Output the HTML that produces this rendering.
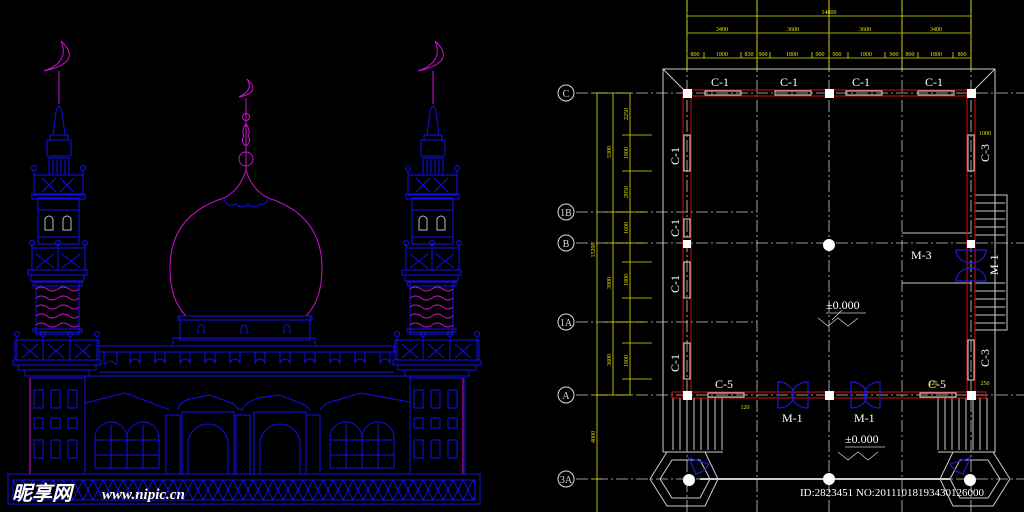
<!DOCTYPE html>
<html><head><meta charset="utf-8"><style>
html,body{margin:0;padding:0;background:#000;width:1024px;height:512px;overflow:hidden}
svg{display:block}
text{font-family:"Liberation Serif",serif}
</style></head><body>
<svg width="1024" height="512" viewBox="0 0 1024 512" xmlns="http://www.w3.org/2000/svg">
<defs><clipPath id="bc"><rect x="13" y="480" width="462" height="20"/></clipPath></defs>
<rect width="1024" height="512" fill="#000"/>
<g fill="none" stroke="#1010ee" stroke-width="1">
 <path d="M246 170 Q240 190 224 198 Q170 215 170 268 Q170 300 186 316 M246 170 Q252 190 268 198 Q322 215 322 268 Q322 300 306 316" stroke="#d010d0"/>
 <path d="M224 200 q4 8 12 4 q6 6 12 0 q6 6 12 0 q6 2 8 -6" stroke="#1010ee"/>
 <path d="M246 98 L246 170" stroke="#d010d0"/>
 <circle cx="246" cy="159" r="7" stroke="#d010d0"/>
 <path d="M246 146 q-6 -4 -2 -10 q-3 -6 2 -12 q5 6 2 12 q4 6 -2 10z" stroke="#d010d0"/>
 <circle cx="246" cy="117" r="3.5" stroke="#d010d0"/>
 <path d="M247 79 Q262 92 239 97 Q254 90 247 79z" stroke="#d010d0"/>
 <rect x="180" y="316" width="130" height="24"/>
 <rect x="178" y="316" width="134" height="4"/>
 <rect x="173" y="338" width="142" height="8"/>
 <path d="M198 334 v-6 a3 3 0 0 1 6 0 v6 M241 334 v-6 a3 3 0 0 1 6 0 v6 M284 334 v-6 a3 3 0 0 1 6 0 v6"/>
 <rect x="99" y="346" width="295" height="6"/>
 <path d="M99 352 H394 M99 376 H394 M99 372 H394"/>
 <path d="M104 352 v12 h2 a5 5 0 0 1 9 0 h2 M117 364 v-12 M130 352 v12 a5 5 0 0 1 10 0 v-12 M155 352 v12 a5 5 0 0 1 10 0 v-12 M180 352 v12 a5 5 0 0 1 10 0 v-12 M205 352 v12 a5 5 0 0 1 10 0 v-12 M230 352 v12 a5 5 0 0 1 10 0 v-12 M255 352 v12 a5 5 0 0 1 10 0 v-12 M280 352 v12 a5 5 0 0 1 10 0 v-12 M305 352 v12 a5 5 0 0 1 10 0 v-12 M330 352 v12 a5 5 0 0 1 10 0 v-12 M355 352 v12 a5 5 0 0 1 10 0 v-12 M380 352 v12 a5 5 0 0 1 10 0 v-12"/>
 <rect x="85" y="376" width="325" height="98"/>
 <path d="M85 403 L125 393 L170 410 M178 410 Q180 400 195 398 L210 395 L234 404 Q237 410 242 410 Q246 402 258 398 L280 395 L305 405 L310 410 M320 410 Q325 402 338 400 L360 393 L410 402"/>
 <path d="M95 468 v-30 a16 16 0 0 1 32 0 v30z M127 468 v-30 a16 16 0 0 1 32 0 v30z M330 468 v-30 a16 16 0 0 1 32 0 v30z M362 468 v-30 a16 16 0 0 1 32 0 v30z"/>
 <path d="M95 440 h64 M95 455 h64 M111 425 v43 M143 425 v43 M330 440 h64 M330 455 h64 M346 425 v43 M378 425 v43"/>
 <rect x="182" y="412" width="52" height="62"/><path d="M188 474 v-30 a20 20 0 0 1 40 0 v30"/>
 <rect x="254" y="412" width="52" height="62"/><path d="M260 474 v-30 a20 20 0 0 1 40 0 v30"/>
 <path d="M166 415 h14 v59 h-14z M236 415 h14 v59 h-14z M306 415 h14 v59 h-14z"/>
 <rect x="30" y="378" width="55" height="96"/><rect x="410" y="378" width="55" height="96"/>
 <g>
  <rect x="34" y="390" width="9" height="18"/><rect x="51" y="390" width="9" height="18"/><rect x="68" y="390" width="9" height="18"/>
  <rect x="34" y="418" width="9" height="10"/><rect x="51" y="418" width="9" height="10"/><rect x="68" y="418" width="9" height="10"/>
  <rect x="34" y="440" width="9" height="18"/><rect x="51" y="440" width="9" height="18"/><rect x="68" y="440" width="9" height="18"/>
  <rect x="414" y="390" width="9" height="18"/><rect x="431" y="390" width="9" height="18"/><rect x="448" y="390" width="9" height="18"/>
  <rect x="414" y="418" width="9" height="10"/><rect x="431" y="418" width="9" height="10"/><rect x="448" y="418" width="9" height="10"/>
  <rect x="414" y="440" width="9" height="18"/><rect x="431" y="440" width="9" height="18"/><rect x="448" y="440" width="9" height="18"/>
 </g>
 <line x1="30" y1="378" x2="30" y2="474" stroke="#d010d0"/><line x1="463" y1="378" x2="463" y2="474" stroke="#d010d0"/>
 <g id="lb">
  <rect x="15" y="340" width="84" height="20"/><rect x="13" y="360" width="88" height="5"/><rect x="18" y="365" width="78" height="5"/><rect x="25" y="370" width="64" height="6"/>
  <path d="M17 338 v22 M43 338 v22 M70 338 v22 M97 338 v22"/>
  <circle cx="17" cy="334" r="2.5"/><circle cx="43" cy="334" r="2.5"/><circle cx="70" cy="334" r="2.5"/><circle cx="97" cy="334" r="2.5"/>
  <path d="M22 344 l16 14 M38 344 l-16 14 M48 344 l16 14 M64 344 l-16 14 M75 344 l16 14 M91 344 l-16 14"/>
 </g>
 <use href="#lb" transform="translate(380,0)"/>
 <rect x="8" y="474" width="472" height="30"/><rect x="13" y="480" width="462" height="20"/>
 <g clip-path="url(#bc)">
 <path d="M13 480 l10 20 l10 -20 l10 20 l10 -20 l10 20 l10 -20 l10 20 l10 -20 l10 20 l10 -20 l10 20 l10 -20 l10 20 l10 -20 l10 20 l10 -20 l10 20 l10 -20 l10 20 l10 -20 l10 20 l10 -20 l10 20 l10 -20 l10 20 l10 -20 l10 20 l10 -20 l10 20 l10 -20 l10 20 l10 -20 l10 20 l10 -20 l10 20 l10 -20 l10 20 l10 -20 l10 20 l10 -20 l10 20 l10 -20 l10 20 l10 -20 l10 20 l10 -20 l10 20 l10 -20 l10 20 l10 -20 l10 20"/>
 <path d="M13 500 l10 -20 l10 20 l10 -20 l10 20 l10 -20 l10 20 l10 -20 l10 20 l10 -20 l10 20 l10 -20 l10 20 l10 -20 l10 20 l10 -20 l10 20 l10 -20 l10 20 l10 -20 l10 20 l10 -20 l10 20 l10 -20 l10 20 l10 -20 l10 20 l10 -20 l10 20 l10 -20 l10 20 l10 -20 l10 20 l10 -20 l10 20 l10 -20 l10 20 l10 -20 l10 20 l10 -20 l10 20 l10 -20 l10 20 l10 -20 l10 20 l10 -20 l10 20 l10 -20 l10 20 l10 -20 l10 20 l10 -20 l10 20"/>
 </g>
</g>
<g id="min" fill="none" stroke="#1010ee">
 <rect x="36" y="282" width="43" height="52"/>
 <path d="M36 289 q5 -4 11 0 q5 4 11 0 q5 -4 11 0 q5 4 10 0 M36 298 q5 -4 11 0 q5 4 11 0 q5 -4 11 0 q5 4 10 0 M36 307 q5 -4 11 0 q5 4 11 0 q5 -4 11 0 q5 4 10 0 M36 316 q5 -4 11 0 q5 4 11 0 q5 -4 11 0 q5 4 10 0 M36 325 q5 -4 11 0 q5 4 11 0 q5 -4 11 0 q5 4 10 0" stroke="#d010d0"/>
 <rect x="33" y="282" width="49" height="4"/><rect x="33" y="329" width="49" height="3"/>
 <rect x="32" y="248" width="53" height="22"/><rect x="28" y="270" width="59" height="5"/><rect x="31" y="275" width="53" height="6"/>
 <path d="M32 244 v26 M58 244 v26 M85 244 v26"/>
 <circle cx="32" cy="243" r="2.5"/><circle cx="58" cy="243" r="2.5"/><circle cx="85" cy="243" r="2.5"/>
 <path d="M36 254 l18 14 M54 254 l-18 14 M62 254 l18 14 M80 254 l-18 14"/>
 <rect x="38" y="198" width="41" height="46"/><path d="M38 237 h41 M38 210 h41"/>
 <path d="M45 230 v-10 a4 4 0 0 1 8 0 v10z M63 230 v-10 a4 4 0 0 1 8 0 v10z" stroke="#bbb"/>
 <rect x="34" y="175" width="49" height="20"/><rect x="32" y="194" width="53" height="5"/>
 <path d="M34 170 v25 M83 170 v25"/><circle cx="34" cy="168" r="2.5"/><circle cx="83" cy="168" r="2.5"/>
 <path d="M42 178 l14 14 M56 178 l-14 14 M60 178 l14 14 M74 178 l-14 14"/>
 <rect x="49" y="158" width="20" height="17"/><path d="M53 160 v14 M57 160 v14 M61 160 v14 M65 160 v14"/>
 <rect x="47" y="140" width="24" height="16"/><rect x="50" y="135" width="18" height="5"/>
 <path d="M53 135 L56 112 Q59 100 62 112 L65 135"/>
 <line x1="59" y1="71" x2="59" y2="104" stroke="#d010d0"/>
 <path d="M61 41 Q84 62 44 71 Q70 62 61 41z" stroke="#d010d0"/>
</g>
<use href="#min" transform="translate(374,0)"/>
<text x="12" y="500" font-family="'Noto Sans CJK SC',sans-serif" font-weight="bold" font-size="20" fill="#fff" font-style="italic">昵享网</text>
<text x="102" y="499" font-family="'Liberation Sans',sans-serif" font-weight="bold" font-size="15" fill="#fff" font-style="italic">www.nipic.cn</text>

<g stroke="#ccc" stroke-width="0.8" stroke-dasharray="12 3 2 3" fill="none">
 <line x1="576" y1="93" x2="1024" y2="93"/>
 <line x1="576" y1="212" x2="757" y2="212"/>
 <line x1="576" y1="243" x2="1024" y2="243"/>
 <line x1="576" y1="322" x2="757" y2="322"/>
 <line x1="576" y1="395" x2="1024" y2="395"/>
 <line x1="576" y1="479" x2="1024" y2="479"/>
 <line x1="687" y1="0" x2="687" y2="512"/>
 <line x1="757" y1="0" x2="757" y2="512"/>
 <line x1="829" y1="0" x2="829" y2="512"/>
 <line x1="902" y1="0" x2="902" y2="512"/>
 <line x1="971" y1="0" x2="971" y2="512"/>
</g>
<g fill="none" stroke="#ccc" stroke-width="1">
 <path d="M663 452 V69 H995 V330"/>
 <line x1="663" y1="69" x2="687" y2="93"/><line x1="995" y1="69" x2="971" y2="93"/>
 <path d="M975 195 h32 v135 h-32"/>
 <path d="M975 203h30M975 211h30M975 219h30M975 227h30M975 235h30M975 283h30M975 291h30M975 299h30M975 307h30M975 315h30M975 323h30"/>
 <path d="M902 233 h70 M902 283 h70"/>
 <path d="M673 398 v52 M680 398 v52 M687 398 v52 M694 398 v52 M701 398 v52 M708 398 v52 M715 398 v52 M722 398 v52"/>
 <path d="M938 398 v52 M945 398 v52 M952 398 v52 M959 398 v52 M966 398 v52 M973 398 v52 M980 398 v52 M987 398 v52"/>
 <path d="M663 452 h60 M938 452 h57 V330"/>
 <polygon points="650,479 667,452 705,452 718,479 705,506 667,506"/>
 <polygon points="660,479 672,460 700,460 710,479 700,498 672,498"/>
 <polygon points="940,479 953,452 993,452 1010,479 993,506 953,506"/>
 <polygon points="950,479 960,460 988,460 1000,479 988,498 960,498"/>
 <line x1="700" y1="479" x2="950" y2="479" stroke-width="2"/>
</g>
<g fill="none" stroke="#d01010" stroke-width="1">
 <rect x="683" y="90" width="292" height="6"/>
 <rect x="683" y="90" width="8" height="308"/>
 <rect x="967" y="90" width="8" height="308"/>
 <rect x="672" y="392" width="314" height="6"/>
</g>
<g fill="none" stroke="#ddd" stroke-width="1">
 <rect x="705" y="91" width="36" height="4"/><rect x="775" y="91" width="36" height="4"/><rect x="846" y="91" width="36" height="4"/><rect x="918" y="91" width="36" height="4"/>
 <rect x="684" y="135" width="6" height="36"/><rect x="684" y="219" width="6" height="18"/><rect x="684" y="262" width="6" height="36"/><rect x="684" y="343" width="6" height="36"/>
 <rect x="968" y="135" width="6" height="36"/><rect x="968" y="340" width="6" height="40"/>
 <rect x="708" y="393" width="36" height="4"/><rect x="920" y="393" width="36" height="4"/>
</g>
<g fill="#fff">
 <rect x="683" y="89" width="9" height="9"/><rect x="825" y="89" width="9" height="9"/><rect x="967" y="89" width="9" height="9"/>
 <rect x="683" y="240" width="8" height="8"/><rect x="967" y="240" width="8" height="8"/>
 <rect x="683" y="391" width="9" height="9"/><rect x="825" y="391" width="9" height="9"/><rect x="967" y="391" width="9" height="9"/>
 <circle cx="829" cy="245" r="6"/><circle cx="689" cy="480" r="6"/><circle cx="829" cy="479" r="6"/><circle cx="970" cy="480" r="6"/>
</g>
<g fill="none" stroke="#1a1ad0" stroke-width="1.2">
 <path d="M778 382 v26 a16 13 0 0 0 0 -26z M808 382 v26 a16 13 0 0 1 0 -26z"/>
 <path d="M851 382 v26 a16 13 0 0 0 0 -26z M880 382 v26 a16 13 0 0 1 0 -26z"/>
 <path d="M956 250 h30 a15 13 0 0 1 -30 0z M956 281 h30 a15 13 0 0 0 -30 0z"/>
 <path d="M689 458 l20 6 a20 20 0 0 1 -13 10z M970 458 l-20 6 a20 20 0 0 0 13 10z"/>
</g>
<g fill="#fff" font-size="12">
 <text x="711" y="86">C-1</text><text x="780" y="86">C-1</text><text x="852" y="86">C-1</text><text x="925" y="86">C-1</text>
 <text x="715" y="388">C-5</text><text x="928" y="388">C-5</text>
 <text x="782" y="422">M-1</text><text x="854" y="422">M-1</text>
 <text x="911" y="259">M-3</text>
 <text x="826" y="309">±0.000</text><text x="845" y="443">±0.000</text>
 <text transform="translate(679,165) rotate(-90)">C-1</text>
 <text transform="translate(679,237) rotate(-90)">C-1</text>
 <text transform="translate(679,293) rotate(-90)">C-1</text>
 <text transform="translate(679,372) rotate(-90)">C-1</text>
 <text transform="translate(989,162) rotate(-90)">C-3</text>
 <text transform="translate(989,367) rotate(-90)">C-3</text>
 <text transform="translate(998,275) rotate(-90)">M-1</text>
</g>
<g stroke="#ccc" fill="none" stroke-width="0.8">
 <path d="M826 313 h40 M818 318 l10 8 l10 -8 l10 8 l10 -8 M842 310 l-10 10 M845 447 h40 M838 452 l10 8 l10 -8 l10 8 l10 -8"/>
</g>
<g fill="none" stroke="#ddd">
 <circle cx="566" cy="93" r="8"/><circle cx="566" cy="212" r="8"/><circle cx="566" cy="243" r="8"/>
 <circle cx="566" cy="322" r="8"/><circle cx="566" cy="395" r="8"/><circle cx="566" cy="479" r="8"/>
</g>
<g fill="#ddd" font-size="10" text-anchor="middle">
 <text x="566" y="97">C</text><text x="566" y="216">1B</text><text x="566" y="247">B</text>
 <text x="566" y="326">1A</text><text x="566" y="399">A</text><text x="566" y="483">3A</text>
</g>
<g stroke="#e0e000" stroke-width="0.8" fill="none">
 <line x1="687" y1="16" x2="971" y2="16"/><line x1="687" y1="33" x2="971" y2="33"/><line x1="687" y1="58" x2="971" y2="58"/>
 <path d="M687 0 v70 M757 0 v70 M829 0 v70 M902 0 v70 M971 0 v70"/>
 <path d="M704 52v6M741 52v6M770 52v6M812 52v6M848 52v6M885 52v6M918 52v6M953 52v6"/>
 <line x1="597" y1="93" x2="597" y2="512"/><line x1="613" y1="93" x2="613" y2="395"/><line x1="630" y1="93" x2="630" y2="395"/>
 <path d="M592 93h40M622 135h30M622 171h30M605 212h40M605 243h40M622 262h30M622 298h30M605 322h40M622 343h30M622 379h30M592 395h40M592 479h10"/>
</g>
<g fill="#e0e000" font-size="6" text-anchor="middle" font-family="Liberation Sans">
 <text x="829" y="14">14800</text>
 <text x="722" y="31">3400</text><text x="793" y="31">3600</text><text x="865" y="31">3600</text><text x="936" y="31">3400</text>
 <text x="695" y="56">800</text><text x="722" y="56">1800</text><text x="749" y="56">830</text><text x="763" y="56">900</text><text x="792" y="56">1800</text><text x="820" y="56">900</text><text x="837" y="56">900</text><text x="866" y="56">1800</text><text x="894" y="56">900</text><text x="910" y="56">800</text><text x="936" y="56">1800</text><text x="962" y="56">800</text>
 <text x="985" y="135">1000</text><text x="745" y="409">120</text><text x="933" y="385">120</text><text x="985" y="385">250</text>
</g>
<g fill="#e0e000" font-size="6" font-family="Liberation Sans" text-anchor="middle">
 <text transform="translate(595,250) rotate(-90)">15200</text>
 <text transform="translate(595,437) rotate(-90)">4000</text>
 <text transform="translate(611,152) rotate(-90)">5300</text>
 <text transform="translate(611,283) rotate(-90)">3900</text>
 <text transform="translate(611,360) rotate(-90)">3600</text>
 <text transform="translate(628,114) rotate(-90)">2250</text>
 <text transform="translate(628,153) rotate(-90)">1800</text>
 <text transform="translate(628,192) rotate(-90)">2050</text>
 <text transform="translate(628,228) rotate(-90)">1600</text>
 <text transform="translate(628,280) rotate(-90)">1800</text>
 <text transform="translate(628,361) rotate(-90)">1800</text>
</g>
<text x="800" y="496" font-family="'Liberation Sans',sans-serif" font-size="11" fill="#fff">ID:2823451 NO:20111018193430126000</text>
</svg>
</body></html>
